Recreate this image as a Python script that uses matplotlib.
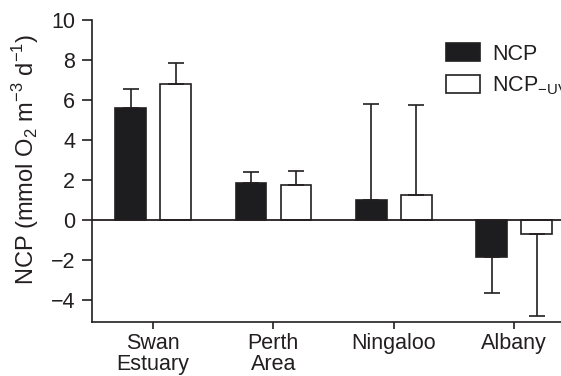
import matplotlib.pyplot as plt
import numpy as np

plt.rcParams['font.family'] = ['Liberation Sans', 'DejaVu Sans']

sites = ['Swan\nEstuary', 'Perth\nArea', 'Ningaloo', 'Albany']
ncp = [5.6, 1.87, 1.02, -1.83]
ncp_err = [0.95, 0.55, 4.8, 1.82]
ncp_uv = [6.8, 1.77, 1.27, -0.7]
ncp_uv_err = [1.05, 0.66, 4.46, 4.08]

ink = '#231f20'
x = np.arange(len(sites))
w = 0.255
off = 0.187

fig = plt.figure(figsize=(5.61, 3.76), dpi=100)
ax = fig.add_axes([0.164, 0.1436, 0.836, 0.8032])

def one_sided(vals, errs):
    lo = [e if v < 0 else 0 for v, e in zip(vals, errs)]
    hi = [e if v >= 0 else 0 for v, e in zip(vals, errs)]
    return [lo, hi]

ek = dict(ecolor=ink, elinewidth=1.2, capsize=5.5, capthick=1.2)
ax.bar(x - off, ncp, w, color='#1d1d1f', edgecolor=ink, linewidth=1.2,
       yerr=one_sided(ncp, ncp_err), error_kw=ek, label='NCP', zorder=3)
ax.bar(x + off, ncp_uv, w, color='white', edgecolor=ink, linewidth=1.2,
       yerr=one_sided(ncp_uv, ncp_uv_err), error_kw=ek,
       label='NCP$_{\\mathregular{-UV}}$', zorder=3)

ax.axhline(0, color=ink, linewidth=1.3, zorder=4)

ax.set_xlim(-0.507, 3.39)
ax.set_ylim(-5.1, 10)
ax.set_yticks([10, 8, 6, 4, 2, 0, -2, -4])
ax.set_yticklabels(['10', '8', '6', '4', '2', '0', '\u22122', '\u22124'])
ax.set_xticks(x)
ax.set_xticklabels(sites, linespacing=1.0)

for s in ['top', 'right']:
    ax.spines[s].set_visible(False)
for s in ['left', 'bottom']:
    ax.spines[s].set_color(ink)
    ax.spines[s].set_linewidth(1.2)

ax.tick_params(axis='both', colors=ink, labelsize=15.5, width=1.2,
               labelcolor=ink)
ax.tick_params(axis='y', length=7, pad=5)
ax.tick_params(axis='x', length=5, pad=3)

ax.set_ylabel('NCP (mmol O$_{\\mathregular{2}}$ m$^{\\mathregular{\u22123}}$ d$^{\\mathregular{\u22121}}$)',
              fontsize=17, color=ink)
ax.yaxis.set_label_coords(-0.108, 0.54)

fig.legend(loc='upper left', bbox_to_anchor=(0.795, 0.885), frameon=False,
           fontsize=15.5, handlelength=1.6, handleheight=0.9, labelspacing=0.45,
           handletextpad=0.55, borderpad=0, borderaxespad=0, labelcolor=ink)

fig.savefig('out.png', dpi=100)
